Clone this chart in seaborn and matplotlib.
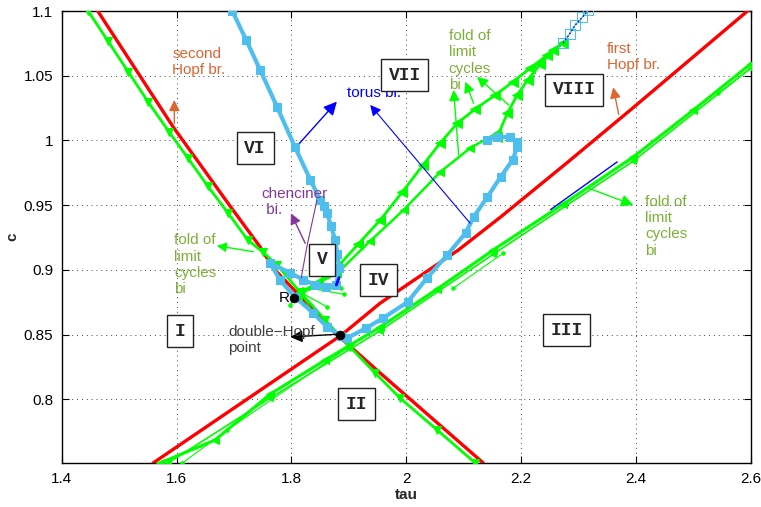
import matplotlib
matplotlib.use("Agg")
import matplotlib.pyplot as plt
import seaborn as sns

# ---------------- bifurcation curves in the (tau, c) plane ----------------
# second Hopf branch (descending red curve)
hopf2_tau = [1.4615, 1.594, 1.693, 1.7455, 1.768, 1.880, 1.9545, 2.134]
hopf2_c = [1.1008, 1.0104, 0.9493, 0.9176, 0.9014, 0.8496, 0.8202, 0.7507]

# first Hopf branch (ascending red curve)
hopf1_tau = [1.559, 1.887, 1.9545, 2.0905, 2.164, 2.279, 2.390, 2.596]
hopf1_c = [0.7507, 0.8496, 0.8743, 0.9153, 0.9408, 0.9825, 1.0235, 1.1008]

# fold of limit cycles next to the second Hopf branch
lpc_a_tau = [1.446, 1.4807, 1.5155, 1.5503, 1.587, 1.6196, 1.654, 1.6895, 1.724,
             1.750, 1.775, 1.815, 1.8587, 1.902, 1.9458, 1.989, 2.0538, 2.120]
lpc_a_c = [1.1, 1.0766, 1.0532, 1.0298, 1.0065, 0.9864, 0.9648, 0.9439, 0.923,
           0.9138, 0.9037, 0.8828, 0.8612, 0.8403, 0.8202, 0.8009, 0.7762, 0.7507]

# fold of limit cycles next to the first Hopf branch
lpc_b_tau = [1.571, 1.667, 1.763, 1.8587, 1.9545, 2.0538, 2.151, 2.273, 2.395, 2.4998, 2.600]
lpc_b_c = [0.7507, 0.7685, 0.804, 0.8303, 0.8558, 0.8852, 0.9153, 0.9508, 0.9872, 1.0235, 1.0594]
lpc_b2_tau = [1.585, 1.763, 1.9545, 2.151, 2.395, 2.600]
lpc_b2_c = [0.7507, 0.801, 0.853, 0.912, 0.984, 1.056]

# short fold-of-limit-cycle pieces
lpc_c_tau = [1.610, 1.688, 1.897]
lpc_c_c = [0.7507, 0.7762, 0.8396]
lpc_d_tau = [2.082, 2.169]
lpc_d_c = [0.8859, 0.913]
lpc_e_tau = [2.543, 2.600]
lpc_e_c = [1.0366, 1.056]

# torus branch lying along the first fold of limit cycles
ns_line_tau = [2.251, 2.367]
ns_line_c = [0.9465, 0.9834]

# folds of limit cycles starting near R (upper, lower and the connecting branch)
lpc_u_tau = [1.810, 1.8465, 1.880, 1.9162, 1.9545, 1.9929, 2.029, 2.059, 2.089,
             2.120, 2.155, 2.185, 2.216, 2.2455, 2.273]
lpc_u_c = [0.879, 0.8906, 0.9022, 0.9199, 0.9385, 0.9601, 0.981, 0.998, 1.0134,
           1.0243, 1.0351, 1.0451, 1.056, 1.066, 1.0753]
lpc_l_tau = [1.815, 1.880, 1.9371, 1.995, 2.059, 2.111, 2.158]
lpc_l_c = [0.8828, 0.8975, 0.9223, 0.9462, 0.9756, 0.9941, 1.0057]
lpc_k_tau = [2.158, 2.176, 2.193, 2.211, 2.2333, 2.256, 2.273]
lpc_k_c = [1.0026, 1.0212, 1.0351, 1.0467, 1.059, 1.0699, 1.0753]

# small limit-cycle pieces around R
rtail_tau = [[1.815, 1.862], [1.815, 1.838], [1.820, 1.887], [1.810, 1.798], [1.830, 1.892]]
rtail_c = [[0.8828, 0.8713], [0.8828, 0.8666], [0.8850, 0.8859], [0.8800, 0.8728], [0.8860, 0.8810]]

# torus (Neimark-Sacker) curve
torus_tau = [1.697, 1.7211, 1.7455, 1.775, 1.806, 1.833, 1.850, 1.856, 1.862, 1.869, 1.876,
             1.880, 1.883, 1.878, 1.860, 1.841, 1.820, 1.798, 1.763, 1.780, 1.806, 1.838,
             1.862, 1.887, 1.897, 1.930, 1.960, 2.002, 2.036, 2.071, 2.103, 2.117, 2.141,
             2.164, 2.185, 2.193, 2.193, 2.181, 2.158, 2.141]
torus_c = [1.1, 1.0776, 1.0544, 1.0258, 0.9949, 0.9694, 0.9539, 0.9490, 0.9439, 0.9335, 0.923,
           0.912, 0.9014, 0.8883, 0.8870, 0.8883, 0.8925, 0.8975, 0.9053, 0.8921, 0.879, 0.8666,
           0.8558, 0.8488, 0.8473, 0.8550, 0.8628, 0.8751, 0.8937, 0.9114, 0.9284, 0.9408, 0.9563,
           0.9717, 0.9849, 0.9949, 0.9988, 1.0026, 1.0026, 1.0003]
torus2_tau = [2.273, 2.284, 2.294, 2.306, 2.317]
torus2_c = [1.0753, 1.0822, 1.0892, 1.0950, 1.1008]

# special points
special_tau = [1.805, 1.885]
special_c = [0.8784, 0.8500]

# ---------------- figure ----------------
sns.set_style("ticks")
plt.rcParams['font.family'] = ['Liberation Sans', 'DejaVu Sans']

RED = '#FF0000'
GREEN = '#00FF00'
LBLUE = '#4DBEEE'
ORANGE = '#DE6431'
OLIVE = '#7DB039'
PURPLE = '#83389A'

fig = plt.figure(figsize=(7.61, 5.07), dpi=100)
ax = fig.add_axes([0.0811, 0.0862, 0.9058, 0.8921])


def curve(t, c, **kw):
    kw.setdefault('markeredgecolor', kw.get('color'))
    sns.lineplot(x=t, y=c, sort=False, estimator=None, ax=ax, legend=False, **kw)


# Hopf branches
curve(hopf2_tau, hopf2_c, color=RED, lw=2.4, zorder=3)
curve(hopf1_tau, hopf1_c, color=RED, lw=2.4, zorder=3)

# folds of limit cycles
curve(lpc_a_tau, lpc_a_c, color=GREEN, lw=2.0, marker='v', markersize=6, zorder=4)
curve(lpc_b_tau, lpc_b_c, color=GREEN, lw=2.2, marker='<', markersize=6, zorder=4)
curve(lpc_b2_tau, lpc_b2_c, color=GREEN, lw=1.2, marker='<', markersize=5, zorder=4)
curve(lpc_c_tau, lpc_c_c, color=GREEN, lw=0.8, marker='.', markersize=5, zorder=4)
curve(lpc_d_tau, lpc_d_c, color=GREEN, lw=0.8, marker='.', markersize=5, zorder=4)
curve(lpc_e_tau, lpc_e_c, color=GREEN, lw=0.8, marker='.', markersize=5, zorder=4)
curve(ns_line_tau, ns_line_c, color='#0000FF', lw=1.0, zorder=4)
curve(lpc_u_tau, lpc_u_c, color=GREEN, lw=2.0, marker='<', markersize=7, zorder=4)
curve(lpc_l_tau, lpc_l_c, color=GREEN, lw=1.8, marker='<', markersize=6, zorder=4)
curve(lpc_k_tau, lpc_k_c, color=GREEN, lw=2.0, marker='<', markersize=7, zorder=4)
for t, c in zip(rtail_tau, rtail_c):
    curve(t, c, color=GREEN, lw=0.9, marker='.', markersize=5, zorder=4)

# torus curves
curve(torus_tau, torus_c, color=LBLUE, lw=3.0, marker='s', markersize=6, zorder=5)
curve(torus2_tau, torus2_c, color=LBLUE, lw=1.0, marker='s', markersize=7,
      markerfacecolor='none', zorder=5)
curve(torus2_tau, torus2_c, color='#0000CC', lw=1.0, linestyle=':', zorder=6)
curve([1.878, 1.883], [0.8883, 0.8940], color='#0000FF', lw=2.0, zorder=6)

# R and the double-Hopf point
sns.scatterplot(x=special_tau, y=special_c, color='black', s=40, ax=ax, zorder=7,
                edgecolor='black', legend=False)

# ---------------- annotations ----------------
def arrow(tail, tip, color, lw=1.0, ms=14):
    ax.annotate('', xy=tip, xytext=tail, zorder=8,
                arrowprops=dict(arrowstyle='-|>', color=color, lw=lw,
                                mutation_scale=ms, shrinkA=0, shrinkB=0))


txt = dict(fontsize=11, va='top', ha='left', linespacing=1.2, zorder=9)
ax.text(1.5922, 1.0724, 'second\nHopf br.', color=ORANGE, **txt)
arrow((1.596, 1.0132), (1.596, 1.0312), ORANGE, lw=1.0, ms=16)
ax.text(2.3495, 1.0763, 'first\nHopf br.', color=ORANGE, **txt)
arrow((2.3697, 1.0202), (2.360, 1.041), ORANGE, lw=1.0, ms=16)

ax.text(1.8965, 1.0364, 'torus bi.', color='#0000FF', fontsize=11, va='center',
        ha='left', zorder=9)
arrow((1.814, 0.9978), (1.879, 1.030), '#0000FF', lw=1.0, ms=20)
arrow((2.111, 0.936), (1.937, 1.0274), '#0000FF', lw=0.8, ms=16)

ax.text(1.7484, 0.9642, 'chenciner\n bi.', color=PURPLE, **txt)
arrow((1.8239, 0.9205), (1.799, 0.9437), PURPLE, lw=1.0, ms=16)
ax.plot([1.8443, 1.8268, 1.8169], [0.9539, 0.9179, 0.8937], color=PURPLE, lw=0.8, zorder=8)

ax.text(1.5956, 0.9282, 'fold of\nlimit\ncycles\nbi', color=OLIVE, **txt)
arrow((1.7338, 0.914), (1.670, 0.9186), GREEN, lw=1.0, ms=14)

ax.text(2.0735, 1.0859, 'fold of\nlimit\ncycles\nbi', color=OLIVE, **txt)
arrow((2.091, 0.9887), (2.0822, 1.039), GREEN, lw=1.0, ms=16)
arrow((2.117, 1.0287), (2.1026, 1.0454), GREEN, lw=1.0, ms=16)
arrow((2.178, 1.0274), (2.123, 1.0492), GREEN, lw=1.0, ms=16)

ax.text(2.4162, 0.9578, 'fold of\nlimit\ncycles\nbi', color=OLIVE, **txt)
arrow((2.3169, 0.9632), (2.395, 0.9501), GREEN, lw=1.0, ms=18)

ax.text(1.6902, 0.8573, 'double\u2212Hopf\npoint', color='#404040', **txt)
arrow((1.887, 0.8504), (1.798, 0.8481), 'black', lw=1.0, ms=18)
ax.text(1.7786, 0.878, 'R', color='black', fontsize=11, va='center', ha='left', zorder=9)

# region labels
box = dict(boxstyle='square,pad=0.42', facecolor='white', edgecolor='#222222', lw=1.0)
regions = [('I', 1.6061, 0.8527), ('II', 1.9127, 0.7963), ('III', 2.2786, 0.8535),
           ('IV', 1.951, 0.8921), ('V', 1.8535, 0.9076), ('VI', 1.7368, 0.9941),
           ('VII', 1.9972, 1.0505), ('VIII', 2.2925, 1.039)]
for lab, t, c in regions:
    ax.text(t, c, lab, family='Liberation Mono', fontweight='bold', fontsize=13,
            ha='center', va='center', bbox=box, zorder=10)

# ---------------- axes ----------------
ax.set_xlim(1.4, 2.6)
ax.set_ylim(0.7505, 1.1)
ax.set_xticks([1.4, 1.6, 1.8, 2.0, 2.2, 2.4, 2.6])
ax.set_xticklabels(['1.4', '1.6', '1.8', '2', '2.2', '2.4', '2.6'])
ax.set_yticks([0.8, 0.85, 0.9, 0.95, 1.0, 1.05, 1.1])
ax.set_yticklabels(['0.8', '0.85', '0.9', '0.95', '1', '1.05', '1.1'])
ax.tick_params(direction='in', top=True, right=True, length=5, width=0.8,
               labelsize=11, colors='black', pad=6)
ax.grid(True, linestyle=(0, (1, 4)), color='#444444', lw=0.7)
for s in ax.spines.values():
    s.set_visible(True)
    s.set_color('black')
    s.set_linewidth(1.0)
ax.set_xlabel('tau', fontsize=11, fontweight='bold', labelpad=2)
ax.set_ylabel('c', fontsize=11, fontweight='bold', labelpad=3)

fig.savefig('out.png', dpi=100)
